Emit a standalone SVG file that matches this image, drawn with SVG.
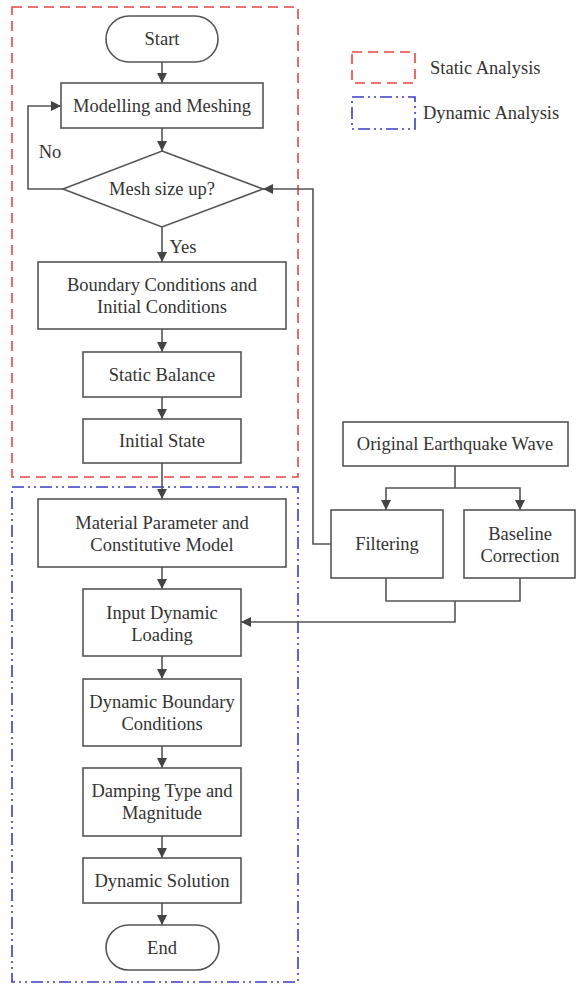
<svg xmlns="http://www.w3.org/2000/svg" width="576" height="985" viewBox="0 0 576 985">
<style>
.box{fill:#fff;stroke:#555;stroke-width:1.6}
.ln{fill:none;stroke:#555;stroke-width:1.6}
.arr{fill:none;stroke:#555;stroke-width:1.6;marker-end:url(#ah)}
text{font-family:"Liberation Serif","Times New Roman",serif;font-size:18.5px;fill:#333;text-anchor:middle}
.red{fill:none;stroke:#e84545;stroke-width:1.6;stroke-dasharray:10 6}
.blue{fill:none;stroke:#3b3bc4;stroke-width:1.6;stroke-dasharray:12 4 2 4 2 4}
</style>
<defs>
<marker id="ah" markerUnits="userSpaceOnUse" markerWidth="12" markerHeight="12" refX="10" refY="5" orient="auto">
<path d="M0,0 L10,5 L0,10 Z" fill="#444"/>
</marker>
</defs>
<g id="regions">
<rect class="red" x="12" y="7" width="286" height="470"/>
<rect class="blue" x="12" y="487" width="286" height="495"/>
</g>
<g id="legend">
<rect class="red" x="352" y="52" width="63" height="31"/>
<text x="430" y="74" style="text-anchor:start">Static Analysis</text>
<rect class="blue" x="352" y="97" width="63" height="32"/>
<text x="423" y="119" style="text-anchor:start">Dynamic Analysis</text>
</g>
<g id="connectors">
<line class="arr" x1="162" y1="62" x2="162" y2="83"/>
<line class="arr" x1="162" y1="128" x2="162" y2="151"/>
<polyline class="arr" points="63,189 28,189 28,106 61,106"/>
<line class="arr" x1="162" y1="227" x2="162" y2="262"/>
<line class="arr" x1="162" y1="329" x2="162" y2="352"/>
<line class="arr" x1="162" y1="397" x2="162" y2="419"/>
<line class="arr" x1="162" y1="463" x2="162" y2="499"/>
<line class="arr" x1="162" y1="567" x2="162" y2="589"/>
<line class="arr" x1="162" y1="656" x2="162" y2="679"/>
<line class="arr" x1="162" y1="746" x2="162" y2="768"/>
<line class="arr" x1="162" y1="836" x2="162" y2="858"/>
<line class="arr" x1="162" y1="903" x2="162" y2="925"/>
<polyline class="arr" points="331,544 313,544 313,189 263,189"/>
<polyline class="ln" points="455,466 455,488"/>
<polyline class="arr" points="455,488 386,488 386,510"/>
<polyline class="arr" points="455,488 520,488 520,510"/>
<polyline class="ln" points="386,578 386,601 520,601 520,578"/>
<polyline class="arr" points="455,601 455,622 241,622"/>
<text x="50" y="158">No</text>
<text x="183" y="253">Yes</text>
</g>
<g id="start"><rect class="box" x="106" y="16" width="112" height="46" rx="23"/><text x="162" y="45">Start</text></g>
<g id="modelling"><rect class="box" x="61" y="83" width="202" height="45"/><text x="162" y="112">Modelling and Meshing</text></g>
<g id="meshsize"><polygon class="box" points="162,151 263,189 162,227 63,189"/><text x="162" y="195">Mesh size up?</text></g>
<g id="boundary"><rect class="box" x="38" y="262" width="248" height="67"/><text x="162" y="291">Boundary Conditions and</text><text x="162" y="313">Initial Conditions</text></g>
<g id="staticbalance"><rect class="box" x="83" y="352" width="158" height="45"/><text x="162" y="381">Static Balance</text></g>
<g id="initialstate"><rect class="box" x="83" y="419" width="158" height="44"/><text x="162" y="447">Initial State</text></g>
<g id="material"><rect class="box" x="38" y="499" width="248" height="68"/><text x="162" y="529">Material Parameter and</text><text x="162" y="551">Constitutive Model</text></g>
<g id="input"><rect class="box" x="83" y="589" width="158" height="67"/><text x="162" y="619">Input Dynamic</text><text x="162" y="641">Loading</text></g>
<g id="dynboundary"><rect class="box" x="83" y="679" width="158" height="67"/><text x="162" y="708">Dynamic Boundary</text><text x="162" y="730">Conditions</text></g>
<g id="damping"><rect class="box" x="83" y="768" width="158" height="68"/><text x="162" y="797">Damping Type and</text><text x="162" y="819">Magnitude</text></g>
<g id="solution"><rect class="box" x="83" y="858" width="158" height="45"/><text x="162" y="887">Dynamic Solution</text></g>
<g id="end"><rect class="box" x="106" y="925" width="113" height="45" rx="22.5"/><text x="162" y="954">End</text></g>
<g id="original"><rect class="box" x="343" y="422" width="225" height="44"/><text x="455" y="450">Original Earthquake Wave</text></g>
<g id="filtering"><rect class="box" x="331" y="510" width="112" height="68"/><text x="387" y="550">Filtering</text></g>
<g id="baseline"><rect class="box" x="464" y="510" width="111" height="68"/><text x="520" y="540">Baseline</text><text x="520" y="562">Correction</text></g>
</svg>
